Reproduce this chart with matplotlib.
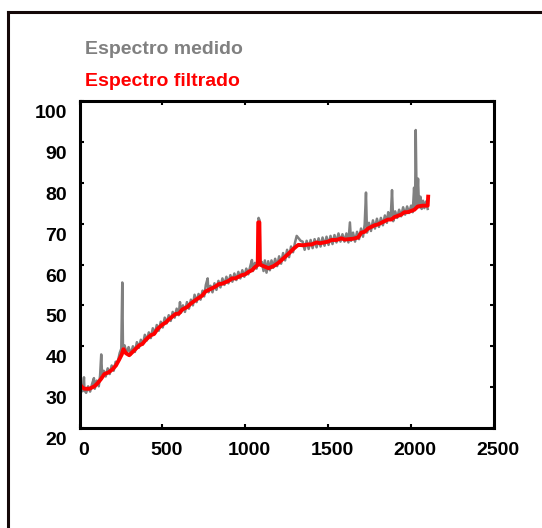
import matplotlib.pyplot as plt
import matplotlib.transforms as mtransforms
from matplotlib.lines import Line2D

plt.rcParams['font.family'] = ['Liberation Sans', 'DejaVu Sans']
plt.rcParams['font.weight'] = 'bold'

# === Measured spectrum (raw) ===
medido_x = [0, 8, 18, 27, 30, 40, 52, 64, 76, 87, 92, 104, 116, 124, 131, 136,
            146, 158, 170, 182, 194, 206, 218, 230, 242, 252, 258, 262, 272, 284,
            296, 310, 322, 334, 346, 358, 370, 382, 394, 406, 418, 430, 442, 454,
            466, 478, 490, 502, 514, 526, 538, 550, 562, 574, 586, 598, 606, 612,
            624, 636, 648, 660, 672, 684, 694, 706, 718, 730, 742, 752, 762, 773,
            778, 790, 802, 814, 826, 838, 850, 862, 874, 886, 898, 910, 922, 934,
            946, 958, 970, 982, 994, 1006, 1018, 1030, 1040, 1046, 1058, 1068,
            1076, 1080, 1086, 1090, 1100, 1110, 1118, 1128, 1138, 1148, 1158,
            1168, 1180, 1192, 1204, 1216, 1228, 1240, 1252, 1264, 1276, 1288,
            1300, 1310, 1322, 1334, 1346, 1358, 1370, 1382, 1394, 1406, 1418,
            1430, 1442, 1454, 1466, 1478, 1490, 1502, 1514, 1526, 1538, 1550,
            1562, 1574, 1586, 1598, 1610, 1622, 1631, 1638, 1650, 1662, 1674,
            1686, 1698, 1710, 1720, 1728, 1734, 1746, 1758, 1770, 1782, 1794,
            1806, 1818, 1830, 1842, 1854, 1862, 1870, 1878, 1885, 1892, 1904,
            1916, 1928, 1940, 1952, 1964, 1976, 1988, 2000, 2010, 2018, 2024,
            2028, 2034, 2042, 2048, 2056, 2064, 2072, 2080, 2090, 2100]
medido_y = [31.8, 30.0, 29.0, 32.4, 29.2, 28.6, 30.2, 28.9, 30.8, 32.2, 29.6, 31.6,
            30.2, 32.8, 38.0, 33.2,
            34.0, 32.6, 34.6, 33.2, 35.3, 34.0, 36.2, 36.0, 38.3, 39.4, 55.6, 40.0,
            40.2, 38.2,
            39.8, 38.0, 40.0, 38.6, 41.0, 39.6, 41.6, 40.4, 42.8, 41.4, 43.4, 42.0,
            44.4, 43.0,
            45.2, 43.8, 46.0, 44.6, 47.0, 45.6, 47.6, 46.2, 48.4, 47.0, 49.2, 47.6,
            50.8, 48.2,
            50.0, 48.4, 50.8, 49.2, 51.4, 50.0, 52.6, 50.8, 52.8, 51.4, 53.6, 52.2,
            55.0, 56.6,
            53.2, 54.8, 53.2, 55.4, 53.8, 56.0, 54.4, 56.6, 55.0, 57.0, 55.4, 57.4,
            55.8, 57.8,
            56.2, 58.2, 56.6, 58.6, 57.0, 59.0, 57.6, 59.6, 61.1, 58.4, 60.4, 59.0,
            61.0, 71.4, 70.8, 60.8, 60.6, 58.4, 61.0, 58.0, 60.8, 58.6, 61.0,
            59.2, 61.4, 59.6, 62.0, 60.2, 62.8, 61.0, 63.6, 61.8, 64.4, 63.0,
            65.4, 67.0, 66.4, 65.8, 65.6, 63.6, 65.8, 63.8, 66.0, 64.0, 66.2,
            64.2, 66.4, 64.4, 66.6, 64.6, 66.8, 64.8, 67.0, 65.0, 67.2, 65.4,
            67.6, 65.6, 67.4, 65.6, 67.6, 65.4, 70.3, 65.8, 67.8, 65.6, 68.0,
            66.2, 68.8, 66.8, 69.8, 77.6, 67.8, 70.2, 68.2, 70.8, 68.8, 71.2,
            69.2, 71.4, 69.6, 72.0, 70.2, 72.8, 71.0, 72.2, 78.2, 70.6, 73.0,
            71.4, 73.4, 71.8, 74.0, 72.2, 74.2, 72.6, 74.4, 72.8, 78.8, 73.6,
            92.9, 73.8, 81.0, 74.0, 76.6, 73.6, 75.6, 73.8, 75.4, 73.6]

# === Filtered spectrum ===
filtrado_x = [0, 15, 30, 60, 90, 110, 130, 150, 175, 200, 220, 240, 255, 265, 280,
              300, 330, 360, 380, 400, 430, 450, 470, 500, 520, 540, 580, 600, 620,
              650, 670, 700, 740, 760, 780, 820, 840, 860, 900, 920, 940, 980, 1000,
              1020, 1040, 1060, 1075, 1078, 1085, 1088, 1110, 1140, 1170, 1200,
              1230, 1260, 1280, 1290, 1310, 1320, 1350, 1380, 1400, 1430, 1450,
              1500, 1520, 1550, 1580, 1600, 1650, 1680, 1700, 1720, 1740, 1780,
              1800, 1820, 1860, 1880, 1900, 1940, 1960, 1980, 2020, 2040, 2070,
              2100, 2103]
filtrado_y = [30.8, 30.0, 29.6, 29.6, 30.2, 31.0, 32.0, 33.2, 33.6, 34.4, 35.3, 36.8,
              38.0, 39.3, 38.3, 37.8, 39.0, 40.2, 40.6, 41.6, 42.7, 43.0, 44.2, 45.3,
              45.8, 46.6, 47.9, 48.0, 49.0, 49.6, 50.4, 51.3, 52.4, 53.4, 53.8, 54.6,
              55.2, 55.3, 56.0, 56.6, 56.6, 57.4, 57.6, 58.2, 58.6, 59.4, 59.9, 70.3,
              70.3, 60.0, 59.6, 59.1, 59.6, 60.4, 61.5, 62.6, 63.4, 63.8, 64.5, 64.8,
              64.7, 64.9, 64.9, 65.4, 65.2, 65.6, 66.0, 66.0, 66.4, 66.1, 66.3, 66.6,
              67.8, 68.0, 68.8, 69.6, 69.8, 70.2, 71.0, 71.0, 71.6, 72.2, 72.8, 72.8,
              73.4, 74.2, 74.4, 74.4, 76.6]

x_ticks = [0, 500, 1000, 1500, 2000, 2500]
y_ticks = [20, 30, 40, 50, 60, 70, 80, 90, 100]

fig = plt.figure(figsize=(5.42, 5.28), dpi=100)
ax = fig.add_axes([0.1467, 0.1894, 0.7647, 0.6193])

ax.plot(medido_x, medido_y, color='#808080', linewidth=1.8)
ax.plot(filtrado_x, filtrado_y, color='#ff0000', linewidth=2.8)

ax.set_xlim(0, 2500)
ax.set_ylim(20, 100)
ax.set_xticks(x_ticks)
ax.set_yticks(y_ticks)

for side in ax.spines.values():
    side.set_linewidth(2.2)
    side.set_color('black')

ax.tick_params(direction='in', length=3, width=1.5, top=True, right=True,
               labelsize=14, colors='black')
ax.tick_params(axis='x', pad=10)
ax.tick_params(axis='y', pad=9)

# tick labels sit a bit off their ticks
dx = mtransforms.ScaledTranslation(0.04, 0, fig.dpi_scale_trans)
dy = mtransforms.ScaledTranslation(0, -0.105, fig.dpi_scale_trans)
for lab in ax.get_xticklabels():
    lab.set_transform(lab.get_transform() + dx)
    lab.set_fontweight('bold')
for lab in ax.get_yticklabels():
    lab.set_transform(lab.get_transform() + dy)
    lab.set_fontweight('bold')

# text legend above the plot
fig.text(85 / 542, 1 - 50 / 528, 'Espectro medido', color='#808080',
         fontsize=14, fontweight='bold', va='center', ha='left')
fig.text(85 / 542, 1 - 81 / 528, 'Espectro filtrado', color='#ff0000',
         fontsize=14, fontweight='bold', va='center', ha='left')

# outer frame
fig.add_artist(Line2D([8 / 542, 8 / 542], [0, 1 - 12 / 528], color='#140808',
                      linewidth=2.2, transform=fig.transFigure))
fig.add_artist(Line2D([8 / 542, 1], [1 - 12 / 528, 1 - 12 / 528], color='#140808',
                      linewidth=2.2, transform=fig.transFigure))

fig.savefig('out.png', dpi=100)
